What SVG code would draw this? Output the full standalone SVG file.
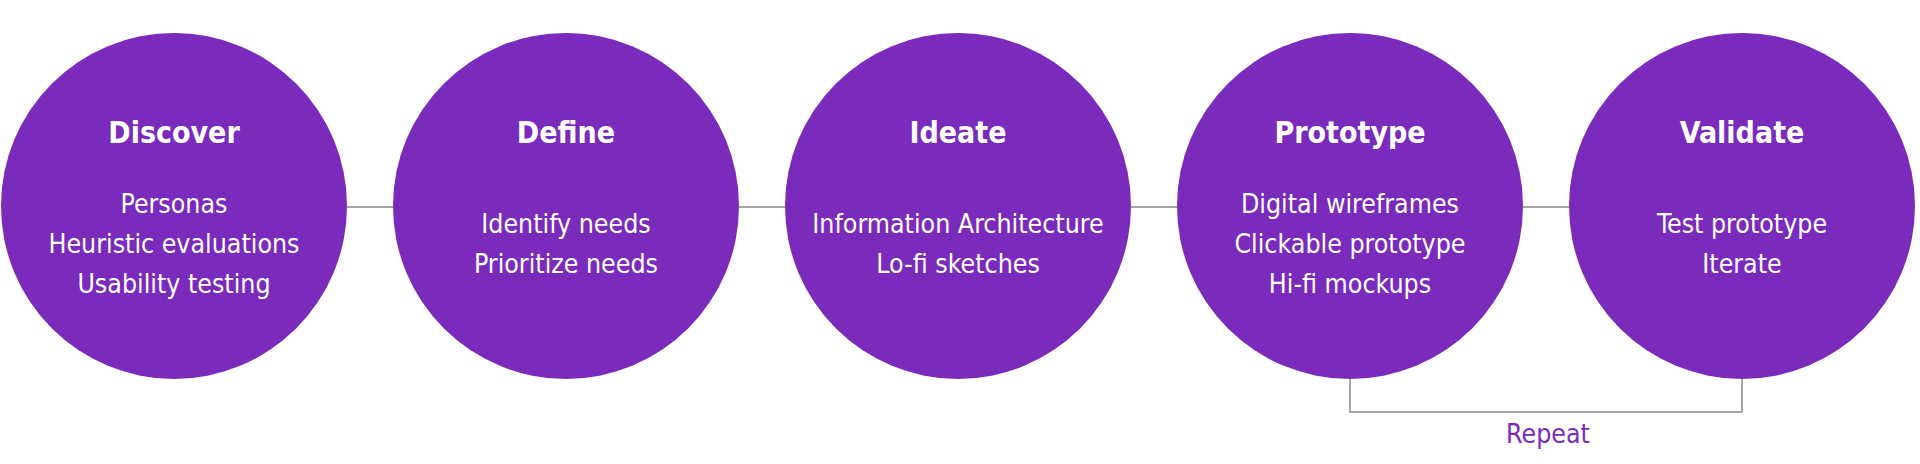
<svg xmlns="http://www.w3.org/2000/svg" width="1920" height="464" viewBox="0 0 1920 464">
<style>
.node{fill:#7B2BBC;}
.title{font-family:"DejaVu Sans Condensed","DejaVu Sans",sans-serif;font-weight:bold;font-size:30px;fill:#ffffff;text-anchor:middle;}
.item{font-family:"DejaVu Sans Condensed","DejaVu Sans",sans-serif;font-size:26.5px;fill:#ffffff;text-anchor:middle;}
.conn{stroke:#a6a6a6;stroke-width:2;fill:none;}
.lbl{font-family:"DejaVu Sans Condensed","DejaVu Sans",sans-serif;font-size:26.5px;fill:#7B2BBC;text-anchor:middle;}
</style>
<rect width="1920" height="464" fill="#ffffff"/>
<g id="connectors">
<line class="conn" x1="347" y1="207" x2="393" y2="207"/>
<line class="conn" x1="739" y1="207" x2="785" y2="207"/>
<line class="conn" x1="1131" y1="207" x2="1177" y2="207"/>
<line class="conn" x1="1523" y1="207" x2="1569" y2="207"/>
<polyline class="conn" points="1350,379 1350,412 1742,412 1742,379"/>
<text class="lbl" x="1548" y="443">Repeat</text>
</g>
<g id="discover">
<circle class="node" cx="174" cy="206" r="173"/>
<text class="title" x="174" y="143">Discover</text>
<text class="item" x="174" y="213">Personas</text>
<text class="item" x="174" y="253">Heuristic evaluations</text>
<text class="item" x="174" y="293">Usability testing</text>
</g>
<g id="define">
<circle class="node" cx="566" cy="206" r="173"/>
<text class="title" x="566" y="143">Define</text>
<text class="item" x="566" y="233">Identify needs</text>
<text class="item" x="566" y="273">Prioritize needs</text>
</g>
<g id="ideate">
<circle class="node" cx="958" cy="206" r="173"/>
<text class="title" x="958" y="143">Ideate</text>
<text class="item" x="958" y="233">Information Architecture</text>
<text class="item" x="958" y="273">Lo-fi sketches</text>
</g>
<g id="prototype">
<circle class="node" cx="1350" cy="206" r="173"/>
<text class="title" x="1350" y="143">Prototype</text>
<text class="item" x="1350" y="213">Digital wireframes</text>
<text class="item" x="1350" y="253">Clickable prototype</text>
<text class="item" x="1350" y="293">Hi-fi mockups</text>
</g>
<g id="validate">
<circle class="node" cx="1742" cy="206" r="173"/>
<text class="title" x="1742" y="143">Validate</text>
<text class="item" x="1742" y="233">Test prototype</text>
<text class="item" x="1742" y="273">Iterate</text>
</g>
</svg>
